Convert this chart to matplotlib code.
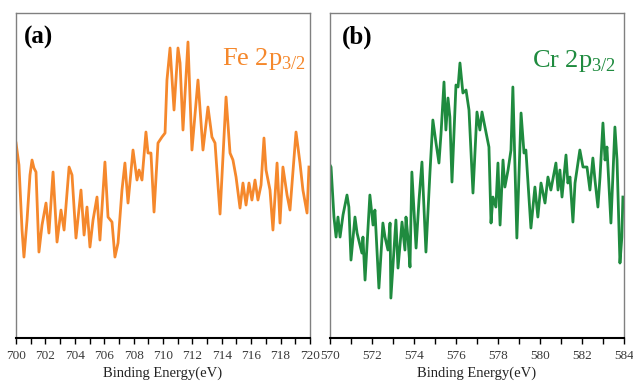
import matplotlib
matplotlib.use("Agg")
import matplotlib.pyplot as plt
from matplotlib.ticker import MultipleLocator

plt.rcParams["font.family"] = ["Liberation Serif", "DejaVu Serif"]
plt.rcParams["mathtext.fontset"] = "custom"
plt.rcParams["mathtext.rm"] = "Liberation Serif"

ORANGE = "#f5882c"
GREEN = "#1f8b3f"

# ── (a) Fe 2p3/2 : binding energy (eV) vs intensity (a.u.) ─────────────────────
fe_be = [700.00, 700.20, 700.41, 700.54, 700.75, 700.95, 701.09, 701.22, 701.36, 701.56,
         701.77, 702.04, 702.24, 702.52, 702.79, 703.06, 703.27, 703.61, 703.81, 704.08,
         704.42, 704.63, 704.83, 705.03, 705.24, 705.51, 705.71, 706.05, 706.26, 706.53,
         706.73, 706.94, 707.21, 707.41, 707.62, 707.96, 708.23, 708.37, 708.57, 708.84,
         708.98, 709.18, 709.39, 709.66, 709.93, 710.14, 710.27, 710.48, 710.75, 711.02,
         711.16, 711.36, 711.70, 711.97, 712.38, 712.72, 713.06, 713.33, 713.54, 713.88,
         714.29, 714.56, 714.76, 714.97, 715.24, 715.44, 715.65, 715.85, 716.05, 716.26,
         716.46, 716.67, 716.87, 717.01, 717.28, 717.48, 717.76, 717.96, 718.16, 718.44,
         718.64, 719.05, 719.32, 719.52, 719.80, 719.93]
fe_int = [195, 173, 108, 81, 118, 163, 178, 170, 166, 86,
          113, 135, 105, 166, 96, 128, 108, 171, 163, 100,
          148, 103, 131, 91, 118, 141, 98, 176, 121, 116,
          81, 95, 148, 175, 135, 188, 158, 168, 158, 206,
          185, 185, 126, 195, 201, 205, 258, 290, 228, 290,
          275, 208, 296, 188, 258, 188, 231, 201, 195, 124,
          241, 185, 178, 161, 130, 155, 133, 155, 138, 158,
          138, 153, 200, 168, 148, 108, 175, 115, 171, 143,
          128, 206, 175, 148, 125, 171]

# ── (b) Cr 2p3/2 ───────────────────────────────────────────────────────────────
cr_be = [570.00, 570.05, 570.19, 570.29, 570.38, 570.48, 570.62, 570.81, 570.90, 571.00,
         571.19, 571.29, 571.52, 571.57, 571.67, 571.90, 572.05, 572.14, 572.33, 572.52,
         572.62, 572.76, 572.86, 572.90, 573.14, 573.24, 573.43, 573.57, 573.62, 573.71,
         573.81, 573.90, 574.10, 574.24, 574.38, 574.57, 574.76, 574.90, 575.05, 575.19,
         575.29, 575.43, 575.52, 575.62, 575.71, 575.81, 576.00, 576.10, 576.19, 576.33,
         576.48, 576.62, 576.81, 577.00, 577.14, 577.24, 577.38, 577.57, 577.67, 577.76,
         577.90, 578.00, 578.10, 578.24, 578.33, 578.48, 578.62, 578.71, 578.90, 579.10,
         579.24, 579.33, 579.57, 579.76, 579.90, 580.05, 580.24, 580.38, 580.52, 580.76,
         580.86, 580.95, 581.05, 581.24, 581.33, 581.43, 581.57, 581.67, 581.90, 582.05,
         582.24, 582.38, 582.52, 582.62, 582.76, 582.86, 583.00, 583.10, 583.19, 583.38,
         583.57, 583.67, 583.81, 583.90, 583.95]
cr_int = [173, 171, 121, 101, 121, 101, 123, 143, 131, 78,
          121, 105, 85, 101, 58, 143, 113, 128, 50, 115,
          101, 88, 115, 40, 118, 70, 116, 88, 121, 101,
          71, 166, 90, 138, 176, 86, 165, 218, 195, 175,
          205, 256, 208, 240, 221, 156, 253, 251, 275, 245,
          248, 228, 145, 226, 208, 226, 211, 191, 115, 141,
          131, 175, 113, 178, 151, 168, 188, 251, 100, 225,
          185, 188, 110, 151, 121, 155, 135, 161, 148, 175,
          148, 168, 141, 183, 155, 161, 116, 155, 188, 171,
          171, 148, 180, 158, 131, 161, 215, 178, 191, 115,
          211, 178, 75, 101, 141]

panels = [
    (fe_be, fe_int, ORANGE, (700, 720), "(a)", r"Fe 2p$_{\mathrm{3/2}}$", (0.075, 0.926), (0.986, 0.84)),
    (cr_be, cr_int, GREEN, (570, 584), "(b)", r"Cr 2p$_{\mathrm{3/2}}$", (0.092, 0.926), (0.973, 0.834)),
]
lefts = [0.0253, 0.5213]

fig = plt.figure(figsize=(6.33, 3.82), dpi=100)
for (be, inten, col, xl, tag, name, tag_pos, name_pos), l in zip(panels, lefts):
    ax = fig.add_axes([l, 0.115, 0.4644, 0.851])
    ax.plot(be, inten, color=col, lw=2.0, solid_joinstyle="round")
    ax.set_xlim(*xl)
    ax.set_ylim(0, 325)
    ax.set_yticks([])
    ax.xaxis.set_major_locator(MultipleLocator(2))
    ax.xaxis.set_minor_locator(MultipleLocator(1))
    ax.tick_params(axis="x", which="both", direction="out", length=4, width=1,
                   pad=4.5, labelsize=9.5, labelcolor="#3a3a3a")
    for s in ["left", "top", "right"]:
        ax.spines[s].set_color("#808080")
        ax.spines[s].set_linewidth(1.0)
    ax.spines["bottom"].set_linewidth(1.5)
    ax.set_xlabel("Binding Energy(eV)", fontsize=10.5, labelpad=3.5, color="#222222")
    ax.text(*tag_pos, tag, transform=ax.transAxes, ha="center", va="center",
            fontsize=18, fontweight="bold")
    ax.text(*name_pos, name, transform=ax.transAxes, ha="right", va="baseline",
            fontsize=19, color=col)

fig.savefig("out.png", dpi=100)
